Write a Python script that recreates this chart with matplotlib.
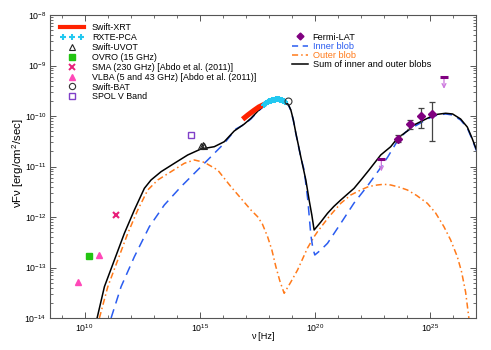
import numpy as np
import matplotlib
matplotlib.use("Agg")
import matplotlib.pyplot as plt
from matplotlib.lines import Line2D
from matplotlib.ticker import LogLocator, NullFormatter, FuncFormatter, FixedLocator
from matplotlib.legend_handler import HandlerLine2D

plt.rcParams['font.family'] = ['Liberation Sans', 'DejaVu Sans']
plt.rcParams['mathtext.fontset'] = 'custom'
plt.rcParams['mathtext.rm'] = 'Liberation Sans'
plt.rcParams['mathtext.it'] = 'Liberation Sans:italic'
plt.rcParams['mathtext.bf'] = 'Liberation Sans:bold'

# ---------------- data (log10 frequency [Hz], log10 nuFnu [erg/cm2/s]) -------------
xrt_lognu = [16.865, 17.095, 17.355, 17.572, 17.845]
xrt_logf = [-10.065, -9.980, -9.891, -9.822, -9.762]

pca_lognu = [17.78, 17.84, 17.90, 17.96, 18.02, 18.08, 18.14, 18.20, 18.26,
             18.32, 18.38, 18.44, 18.50, 18.56, 18.62, 18.68, 18.72]
pca_logf = [-9.775, -9.755, -9.740, -9.725, -9.712, -9.700, -9.690, -9.683, -9.677,
            -9.673, -9.672, -9.673, -9.677, -9.684, -9.695, -9.712, -9.728]

uvot_lognu = [15.07, 15.13, 15.20]
uvot_logf = [-10.59, -10.575, -10.59]

ovro_lognu = [10.18]
ovro_logf = [-12.78]

sma_lognu = [11.36]
sma_logf = [-11.97]

vlba_lognu = [9.71, 10.64]
vlba_logf = [-13.28, -12.76]

bat_lognu = [18.842]
bat_logf = [-9.697]

spol_lognu = [14.64]
spol_logf = [-10.37]

fermi_lognu = [23.63, 24.12, 24.61, 25.10]
fermi_logf = [-10.461, -10.164, -10.000, -9.960]
fermi_logf_hi = [-10.370, -10.073, -9.847, -9.729]
fermi_logf_lo = [-10.515, -10.263, -10.244, -10.495]

ul_lognu = [22.89, 25.61]
ul_logf = [-10.857, -9.222]

sum_lognu = [10.546, 10.863, 11.297, 11.730, 12.164, 12.598, 12.888, 13.322, 13.899,
             14.480, 15.056, 15.633, 16.067, 16.500, 16.934, 17.225, 17.528, 17.875,
             18.092, 18.309, 18.526, 18.699, 18.851, 18.959, 19.068, 19.176, 19.285,
             19.393, 19.610, 19.753, 19.870, 19.970, 20.260, 20.551, 20.824, 21.128,
             21.704, 22.038, 22.355, 22.862, 23.296, 23.586, 24.020, 24.306, 24.740,
             25.030, 25.334, 25.681, 25.984, 26.331, 26.622, 26.808, 27.025]
sum_logf = [-14.0, -13.380, -12.851, -12.323, -11.861, -11.432, -11.267, -11.103, -10.937,
            -10.772, -10.653, -10.608, -10.509, -10.297, -10.160, -10.046, -9.901, -9.762,
            -9.713, -9.683, -9.683, -9.713, -9.772, -9.881, -10.079, -10.337, -10.574,
            -10.812, -11.267, -11.663, -11.960, -12.257, -12.099, -11.927, -11.792, -11.663,
            -11.432, -11.248, -11.069, -10.772, -10.608, -10.442, -10.297, -10.178, -10.079,
            -10.014, -9.966, -9.946, -9.960, -10.059, -10.218, -10.416, -10.673]

inner_lognu = [11.153, 11.587, 12.164, 12.814, 13.465, 14.189, 14.913, 15.490, 16.067,
               16.574, 16.934, 17.225, 17.528, 17.875, 18.092, 18.309, 18.526, 18.699,
               18.851, 18.959, 19.068, 19.176, 19.285, 19.393, 19.536, 19.696, 19.827,
               19.913, 20.0, 20.260, 20.551, 21.128, 21.704, 22.285, 22.788, 23.166,
               23.586, 23.946, 24.306, 24.740, 25.030, 25.334, 25.681, 25.984, 26.331,
               26.622, 26.808, 27.025]
inner_logf = [-14.0, -13.380, -12.786, -12.192, -11.762, -11.400, -11.069, -10.806, -10.541,
              -10.257, -10.168, -10.059, -9.911, -9.772, -9.723, -9.693, -9.693, -9.723,
              -9.782, -9.891, -10.089, -10.347, -10.584, -10.822, -11.069, -11.663, -12.356,
              -12.614, -12.752, -12.653, -12.521, -12.125, -11.723, -11.386, -11.069, -10.812,
              -10.495, -10.317, -10.212, -10.099, -10.030, -9.980, -9.960, -9.980, -10.079,
              -10.238, -10.436, -10.693]

outer_lognu = [10.646, 11.010, 11.444, 11.878, 12.311, 12.745, 13.179, 13.755, 14.332,
               14.766, 15.200, 15.781, 16.357, 16.791, 17.225, 17.515, 17.723, 17.949,
               18.135, 18.309, 18.482, 18.669, 18.959, 19.250, 19.683, 19.970, 20.117,
               20.607, 21.128, 21.561, 21.995, 22.342, 22.719, 22.992, 23.296, 23.643,
               24.020, 24.423, 24.887, 25.247, 25.607, 25.898, 26.188, 26.375, 26.548,
               26.691]
outer_logf = [-14.0, -13.380, -12.851, -12.323, -11.861, -11.465, -11.267, -11.103, -10.937,
              -10.871, -10.917, -11.069, -11.400, -11.630, -11.861, -11.994, -12.139, -12.390,
              -12.653, -12.984, -13.267, -13.511, -13.287, -13.050, -12.614, -12.390, -12.291,
              -12.000, -11.729, -11.564, -11.465, -11.396, -11.366, -11.352, -11.366, -11.406,
              -11.465, -11.574, -11.729, -11.921, -12.192, -12.455, -12.786, -13.089, -13.485,
              -14.0]

legend1_labels = ["Swift-XRT", "RXTE-PCA", "Swift-UVOT", "OVRO (15 GHz)",
                  "SMA (230 GHz) [Abdo et al. (2011)]", "VLBA (5 and 43 GHz) [Abdo et al. (2011)]",
                  "Swift-BAT", "SPOL V Band"]
legend2_labels = ["Fermi-LAT", "Inner blob", "Outer blob", "Sum of inner and outer blobs"]

# ---------------- colours ----------------
c_xrt = '#ff2200'
c_pca = '#22c8f0'
c_ovro = '#22c411'
c_sma = '#e8207a'
c_vlba = '#ff48b8'
c_spol = '#8040c8'
c_fermi = '#800080'
c_ul = '#cc77dd'
c_inner = '#2a5cf0'
c_outer = '#ff7a1a'
c_axis = '#555555'

def p(a):
    return 10.0 ** np.asarray(a, dtype=float)

fig = plt.figure(figsize=(4.91, 3.50), dpi=100)
ax = fig.add_axes([50/491, 1 - 318/350, 426/491, 303/350])

ax.set_xscale('log')
ax.set_yscale('log')
ax.set_xlim(10.0**8.5, 1e27)
ax.set_ylim(1e-14, 1e-8)

# model curves
ax.plot(p(outer_lognu), p(outer_logf), color=c_outer, lw=1.1,
        dashes=(4, 2, 1, 2), zorder=2)
ax.plot(p(inner_lognu), p(inner_logf), color=c_inner, lw=1.1,
        dashes=(6, 4), zorder=3)
ax.plot(p(sum_lognu), p(sum_logf), color='black', lw=1.1, zorder=4)

# data
ax.plot(p(xrt_lognu), p(xrt_logf), color=c_xrt, lw=3.8, solid_capstyle='butt', zorder=5)
ax.plot(p(pca_lognu), p(pca_logf), ls='none', marker='+', ms=5, mew=1.5, color=c_pca, zorder=5)
ax.plot(p(uvot_lognu), p(uvot_logf), ls='none', marker='^', ms=5, mfc='none', mec='#222222',
        mew=0.8, zorder=6)
ax.plot(p(ovro_lognu), p(ovro_logf), ls='none', marker='s', ms=5, color=c_ovro, zorder=6)
ax.plot(p(sma_lognu), p(sma_logf), ls='none', marker='x', ms=5, mew=1.5, color=c_sma, zorder=6)
ax.plot(p(vlba_lognu), p(vlba_logf), ls='none', marker='^', ms=5, color=c_vlba, zorder=6)
ax.plot(p(bat_lognu), p(bat_logf), ls='none', marker='o', ms=5, mfc='none', mec='#333333',
        mew=0.8, zorder=6)
ax.plot(p(spol_lognu), p(spol_logf), ls='none', marker='s', ms=5, mfc='none', mec=c_spol,
        mew=1.0, zorder=6)

fy = p(fermi_logf)
yerr = [fy - p(fermi_logf_lo), p(fermi_logf_hi) - fy]
ax.errorbar(p(fermi_lognu), fy, yerr=yerr, fmt='D', ms=3.8, color=c_fermi, mec=c_fermi,
            ecolor='#444444', elinewidth=0.9, capsize=2.5, capthick=0.9, zorder=7)

for lx, ly in zip(ul_lognu, ul_logf):
    x, y = 10.0**lx, 10.0**ly
    ax.annotate('', xy=(x, y * 10**-0.24), xytext=(x, y),
                arrowprops=dict(arrowstyle='->', color=c_ul, lw=0.9,
                                mutation_scale=7, shrinkA=0, shrinkB=0), zorder=7)
    ax.plot([x], [y], ls='none', marker='_', ms=6, mew=2.2, color=c_fermi, zorder=8)

# ---------------- axes styling ----------------
for s in ax.spines.values():
    s.set_color(c_axis)
    s.set_linewidth(0.8)

ax.xaxis.set_major_locator(FixedLocator([1e10, 1e15, 1e20, 1e25]))
ax.xaxis.set_minor_locator(FixedLocator([10.0**k for k in range(9, 27)]))
ax.xaxis.set_minor_formatter(NullFormatter())
ax.yaxis.set_major_locator(LogLocator(base=10, numticks=20))
ax.yaxis.set_minor_locator(LogLocator(base=10, subs=np.arange(2, 10), numticks=20))
ax.yaxis.set_minor_formatter(NullFormatter())

def fmt(v, pos):
    e = int(round(np.log10(v)))
    return r'$10^{%d}$' % e
ax.xaxis.set_major_formatter(FuncFormatter(fmt))
ax.yaxis.set_major_formatter(FuncFormatter(fmt))

ax.tick_params(which='both', direction='in', top=True, right=True, color=c_axis,
               labelsize=6.3, labelcolor='black')
ax.tick_params(which='major', length=4.5, width=0.7)
ax.tick_params(which='minor', length=2.5, width=0.6)
ax.tick_params(axis='x', which='both', pad=3)
ax.tick_params(axis='y', which='both', pad=2.5)

ax.set_xlabel('ν [Hz]', fontsize=6.6)
ax.set_ylabel('νFν [erg/cm$^2$/sec]', fontsize=8.2)
ax.xaxis.set_label_coords(0.5, -0.045)
ax.yaxis.set_label_coords(-0.056, 0.51)

# ---------------- legends ----------------
h1 = [
    Line2D([], [], color=c_xrt, lw=3.0),
    Line2D([], [], ls='none', marker='+', ms=5, mew=1.5, color=c_pca),
    Line2D([], [], ls='none', marker='^', ms=4.5, mfc='none', mec='#222222', mew=0.8),
    Line2D([], [], ls='none', marker='s', ms=4.5, color=c_ovro),
    Line2D([], [], ls='none', marker='x', ms=4.5, mew=1.4, color=c_sma),
    Line2D([], [], ls='none', marker='^', ms=4.5, color=c_vlba),
    Line2D([], [], ls='none', marker='o', ms=4.5, mfc='none', mec='#333333', mew=0.8),
    Line2D([], [], ls='none', marker='s', ms=4.5, mfc='none', mec=c_spol, mew=1.0),
]
leg1 = ax.legend(h1, legend1_labels, loc='upper left', bbox_to_anchor=(0.0235, 0.973),
                 frameon=False, fontsize=6.4, handlelength=2.7, handletextpad=0.9,
                 labelspacing=0.10, borderaxespad=0, borderpad=0,
                 handler_map={h1[1]: HandlerLine2D(numpoints=3)})
ax.add_artist(leg1)

h2 = [
    Line2D([], [], ls='none', marker='D', ms=3.5, color=c_fermi),
    Line2D([], [], color=c_inner, lw=1.1, dashes=(4, 3)),
    Line2D([], [], color=c_outer, lw=1.1, dashes=(4, 2, 1, 2)),
    Line2D([], [], color='black', lw=1.1),
]
leg2 = ax.legend(h2, legend2_labels, loc='upper left', bbox_to_anchor=(0.567, 0.942),
                 frameon=False, fontsize=6.6, handlelength=1.8, handletextpad=0.51,
                 labelspacing=0.02, borderaxespad=0, borderpad=0)
leg2.get_texts()[1].set_color(c_inner)
leg2.get_texts()[2].set_color(c_outer)

fig.savefig('out.png', dpi=100)
